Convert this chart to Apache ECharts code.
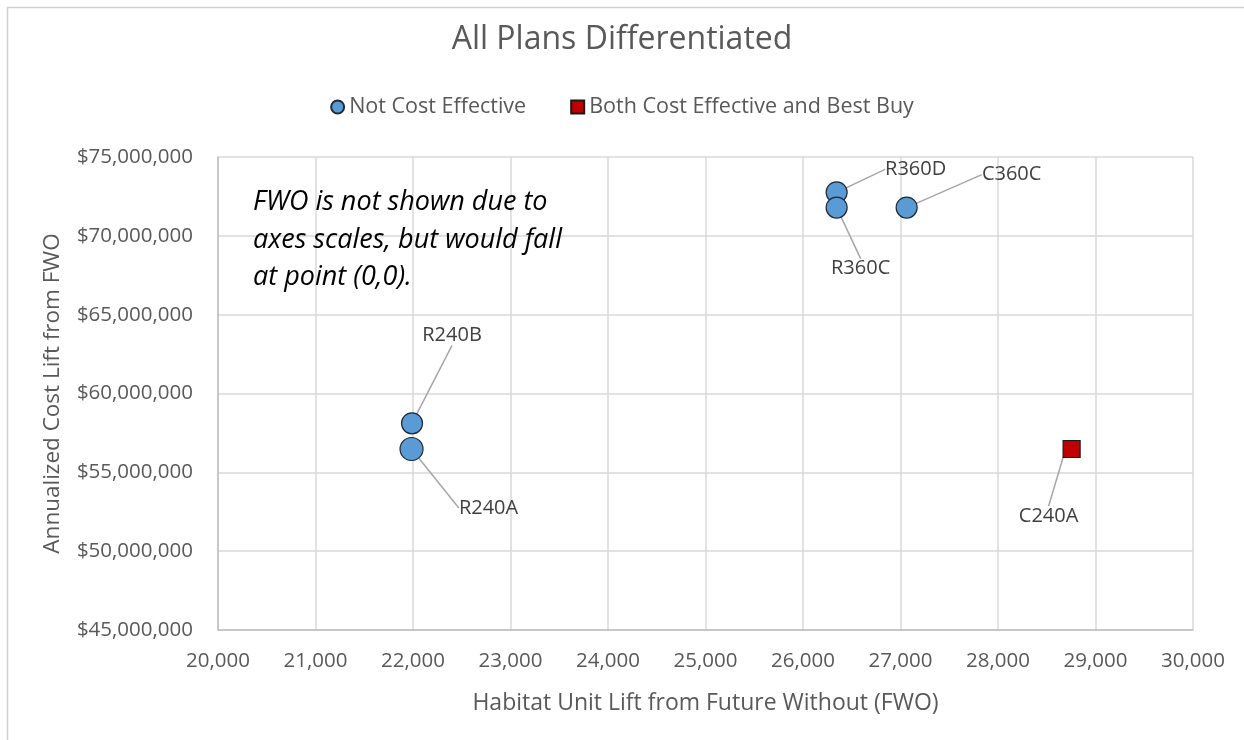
<!DOCTYPE html>
<html><head><meta charset="utf-8">
<script src="https://cdn.jsdelivr.net/npm/echarts@6/dist/echarts.min.js"></script>
<style>html,body{margin:0;padding:0;background:#fff}#c{width:1244px;height:740px}</style>
</head><body><div id="c"></div>
<script>
const notCENames = ['R240B','R240A','R360D','R360C','C360C'];
const notCEX = [21990, 21985, 26345, 26345, 27063];
const notCEY = [58110000, 56480000, 72760000, 71790000, 71790000];
const bestNames = ['C240A'];
const bestX = [28755];
const bestY = [56480000];
const xTicks = {min: 20000, max: 30000, interval: 1000};
const yTicks = {min: 45000000, max: 75000000, interval: 5000000};

const labelOffsets = {R240B:[40,-88], R240A:[77,59], R360D:[79,-23], R360C:[24,61], C360C:[105,-33], C240A:[-23,67]};
const sizes = {R240A:23};

const chart = echarts.init(document.getElementById('c'));
const FONT = 'Open Sans';
function mk(names, xs, ys){
  return names.map((n,i)=>({name:n, value:[xs[i], ys[i]], symbolSize: sizes[n] || 21}));
}
const labelCfg = {show:true, formatter: p=>p.name, color:'#404040', fontSize:20, fontFamily:FONT, position:'inside'};
const layoutFn = function(p){
  const n = p.text; const o = labelOffsets[n] || [0,0];
  return {dx:o[0], dy:o[1]};
};
chart.setOption({
  animation:false,
  title:{text:'All Plans Differentiated', left:'center', top:19, textStyle:{color:'#595959', fontSize:32, fontWeight:'normal', fontFamily:FONT}},
  legend:{top:91, left:'center', itemGap:44, itemWidth:13, itemHeight:13, textStyle:{color:'#595959', fontSize:21.5, fontFamily:FONT},
    data:[{name:'Not Cost Effective', icon:'circle'},{name:'Both Cost Effective and Best Buy', icon:'rect'}]},
  grid:{left:218, top:157, right:51, bottom:110},
  xAxis:{type:'value', min:xTicks.min, max:xTicks.max, interval:xTicks.interval,
    name:'Habitat Unit Lift from Future Without (FWO)', nameLocation:'middle', nameGap:62,
    nameTextStyle:{color:'#595959', fontSize:23, fontFamily:FONT},
    axisLine:{show:true, lineStyle:{color:'#bfbfbf', width:1.5}}, axisTick:{show:false},
    axisLabel:{color:'#595959', fontSize:20.5, fontFamily:FONT, margin:21, formatter:v=>v.toLocaleString('en-US')},
    splitLine:{show:true, lineStyle:{color:'#d9d9d9', width:1.5}}},
  yAxis:{type:'value', min:yTicks.min, max:yTicks.max, interval:yTicks.interval,
    name:'Annualized Cost Lift from FWO', nameLocation:'middle', nameGap:154,
    nameTextStyle:{color:'#595959', fontSize:22.5, fontFamily:FONT},
    axisLine:{show:true, lineStyle:{color:'#bfbfbf', width:1.5}}, axisTick:{show:false},
    axisLabel:{color:'#595959', fontSize:20.5, fontFamily:FONT, margin:25, formatter:v=>'$'+v.toLocaleString('en-US')},
    splitLine:{show:true, lineStyle:{color:'#d9d9d9', width:1.5}}},
  series:[
    {name:'Not Cost Effective', type:'scatter', symbol:'circle', data:mk(notCENames,notCEX,notCEY),
      itemStyle:{color:'#5b9bd5', borderColor:'#1f2a36', borderWidth:1.2, opacity:1},
      label:labelCfg, labelLine:{show:true, lineStyle:{color:'#a6a6a6', width:1.5}}, labelLayout:layoutFn, z:3},
    {name:'Both Cost Effective and Best Buy', type:'scatter', symbol:'rect', symbolSize:17, data:bestNames.map((n,i)=>({name:n, value:[bestX[i], bestY[i]]})),
      itemStyle:{color:'#c00000', borderColor:'#1a1a1a', borderWidth:1.2, opacity:1},
      label:labelCfg, labelLine:{show:true, lineStyle:{color:'#a6a6a6', width:1.5}}, labelLayout:layoutFn, z:3}
  ],
  graphic:[
    {type:'rect', left:5, top:5, shape:{width:1260, height:800}, style:{fill:'none', stroke:'#d0d0d0', lineWidth:1.5}, silent:true, z:-1},
    {type:'text', left:253, top:184, style:{text:'FWO is not shown due to\naxes scales, but would fall\nat point (0,0).', fill:'#000', font:'italic 27px '+FONT, lineHeight:37.5}, z:10}
  ]
});
</script></body></html>
